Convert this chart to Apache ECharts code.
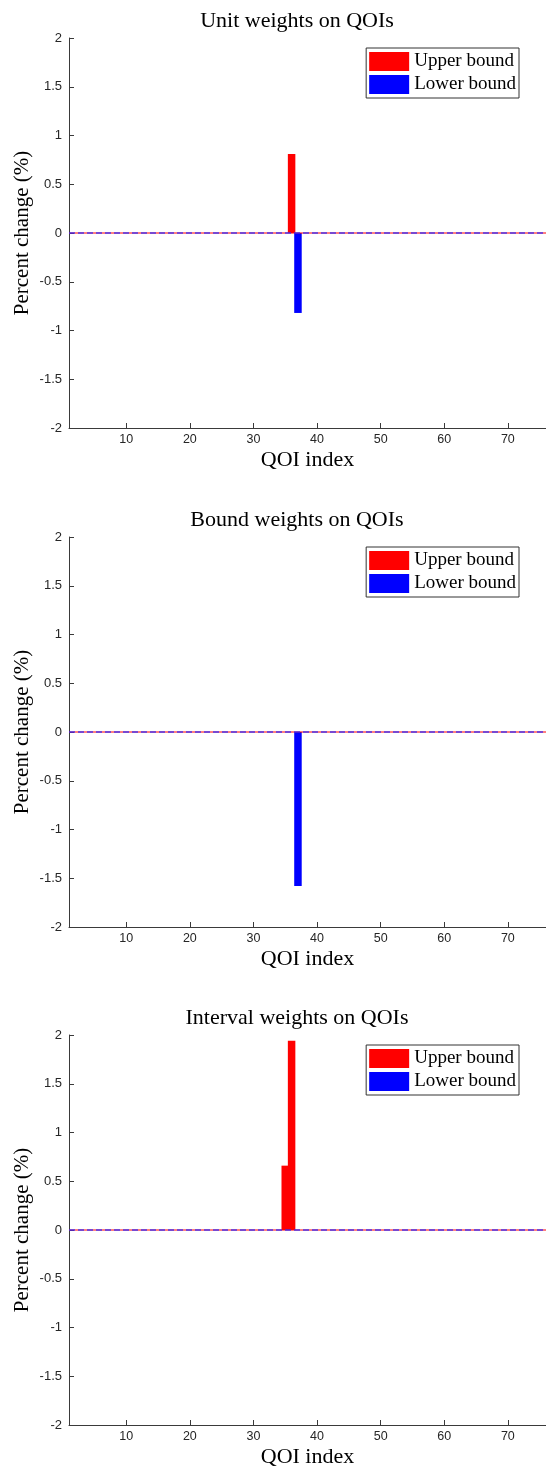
<!DOCTYPE html>
<html>
<head>
<meta charset="utf-8">
<script src="https://cdn.jsdelivr.net/npm/echarts@6/dist/echarts.min.js"></script>
<style>
  html, body { margin: 0; padding: 0; background: #fff; }
  #chartPanel { width: 546px; height: 1476px; }
</style>
</head>
<body>
<div id="chartPanel"></div>
<script>
// panel titles
var titles = ['Unit weights on QOIs', 'Bound weights on QOIs', 'Interval weights on QOIs'];
// bars: [QOI index, percent change]
var unitUpper = [[36, 0.81]];
var unitLower = [[37, -0.82]];
var boundUpper = [];
var boundLower = [[37, -1.58]];
var intervalUpper = [[35, 0.66], [36, 1.94]];
var intervalLower = [];
// zero reference line, drawn over the whole x range
var zeroLine = [[1, 0], [76, 0]];
var xTicks = [10, 20, 30, 40, 50, 60, 70];

var upperSets = [unitUpper, boundUpper, intervalUpper];
var lowerSets = [unitLower, boundLower, intervalLower];

var gridTops = [38, 537, 1035];
var plotH = 390;
var serif = '"Liberation Serif", "DejaVu Serif", serif';
var sans = '"Liberation Sans", Arial, sans-serif';
var axisColor = '#3a3a3a';

var option = {
  animation: false,
  backgroundColor: '#fff',
  title: [], legend: [], grid: [], xAxis: [], yAxis: [], series: []
};

for (var i = 0; i < 3; i++) {
  var gTop = gridTops[i];
  option.title.push({
    text: titles[i],
    left: 292,
    top: gTop - 33,
    textAlign: 'center',
    textStyle: { fontFamily: serif, fontSize: 22, fontWeight: 'normal', color: '#000' }
  });
  option.grid.push({ left: 69, top: gTop, width: 477, height: plotH, containLabel: false, outerBoundsMode: 'none' });
  option.xAxis.push({
    type: 'value', gridIndex: i, min: 1, max: 76,
    name: 'QOI index', nameLocation: 'middle', nameGap: 21,
    nameTextStyle: { fontFamily: serif, fontSize: 22, color: '#000' },
    axisLine: { onZero: false, lineStyle: { color: axisColor, width: 1 } },
    axisTick: { inside: true, length: 5, customValues: xTicks, lineStyle: { color: axisColor } },
    axisLabel: { customValues: xTicks, fontFamily: sans, fontSize: 12.5, color: '#262626', margin: 5 },
    splitLine: { show: false }
  });
  option.yAxis.push({
    type: 'value', gridIndex: i, min: -2, max: 2, interval: 0.5,
    name: 'Percent change (%)', nameLocation: 'middle', nameGap: 36, nameMoveOverlap: false,
    nameTextStyle: { fontFamily: serif, fontSize: 21, color: '#000' },
    axisLine: { show: true, lineStyle: { color: axisColor, width: 1 } },
    axisTick: { show: true, inside: true, length: 5, lineStyle: { color: axisColor } },
    axisLabel: { fontFamily: sans, fontSize: 13, color: '#262626', margin: 7 },
    splitLine: { show: false }
  });
  option.legend.push({
    orient: 'vertical',
    right: 27, top: gTop + 10,
    itemWidth: 40, itemHeight: 19, itemGap: 4,
    padding: [4, 3, 4, 3],
    borderColor: '#333', borderWidth: 1, borderRadius: 0,
    backgroundColor: '#fff',
    textStyle: { fontFamily: serif, fontSize: 19, color: '#000' },
    data: [
      { name: 'Upper bound', icon: 'rect', itemStyle: { color: '#ff0000' } },
      { name: 'Lower bound', icon: 'rect', itemStyle: { color: '#0000ff' } }
    ]
  });
  option.series.push({
    name: 'Upper bound', type: 'bar', xAxisIndex: i, yAxisIndex: i,
    barWidth: 7.5, barGap: '-100%',
    itemStyle: { color: '#ff0000' },
    data: upperSets[i]
  });
  option.series.push({
    name: 'Lower bound', type: 'bar', xAxisIndex: i, yAxisIndex: i,
    barWidth: 7.5, barGap: '-100%',
    itemStyle: { color: '#0000ff' },
    data: lowerSets[i]
  });
  option.series.push({
    type: 'line', xAxisIndex: i, yAxisIndex: i, symbol: 'none', silent: true, z: 5,
    lineStyle: { color: '#ff0000', width: 1 },
    data: zeroLine
  });
  option.series.push({
    type: 'line', xAxisIndex: i, yAxisIndex: i, symbol: 'none', silent: true, z: 6,
    lineStyle: { color: '#2a2aff', width: 1.5, type: [6, 3], opacity: 0.85 },
    data: zeroLine
  });
}

var chartPanel = echarts.init(document.getElementById('chartPanel'));
chartPanel.setOption(option);
</script>
</body>
</html>
